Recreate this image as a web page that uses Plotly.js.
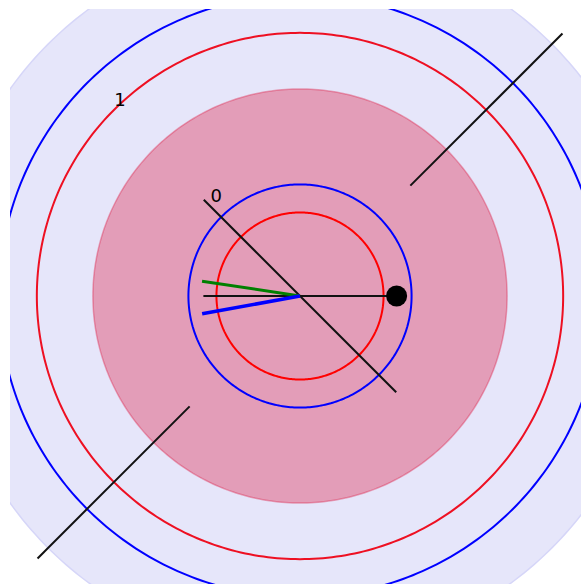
<!DOCTYPE html>
<html><head><meta charset="utf-8">
<script src="https://cdn.plot.ly/plotly-3.0.1.min.js"></script>
<style>
html,body{margin:0;padding:0;background:#fff;overflow:hidden;width:581px;height:584px;}
#clip{position:absolute;left:10px;top:9px;width:571px;height:575px;overflow:hidden;}
#plot{position:absolute;left:-91px;top:-94px;width:762px;height:762px;}
</style></head><body>
<div id="clip"><div id="plot"></div></div>
<script>
// radial tick labels
const radialTickVals = [0, 1];
const radialTickText = ['0', '1'];
// circle radii (data units)
const backgroundR = 1.618;
const innerRedR = -0.386;
const innerBlueR = -0.18;
const diskR = 0.522;
const outerRedR = 0.934;
const outerBlueR = 1.213;
// diagonal line through centre
const diagR = [0, -1, 0];
const diagTheta = [135, 0, 315];
// outer diagonal segments
const segR = [0.147, 1.728];
const segUpTheta = [45, 45];
const segDownTheta = [225, 225];
// horizontal line and dot
const horizR = [-0.29, -0.29];
const horizTheta = [180, 0];
const dotR = [-0.29];
const dotTheta = [0];
// green and blue spokes
const greenR = [-1, -0.272];
const greenTheta = [0, 171.4];
const blueR = [-1, -0.269];
const blueTheta = [0, 190.3];

const circTheta = [];
for (let t = 0; t <= 360; t += 1) circTheta.push(t);
const ring = v => circTheta.map(() => v);

const traces = [
  {type:'scatterpolar', mode:'lines', r: ring(backgroundR), theta: circTheta, fill:'toself',
   fillcolor:'rgb(230,230,250)', line:{color:'rgb(214,214,248)', width:1.5}},
  {type:'scatterpolar', mode:'lines', r: ring(diskR), theta: circTheta, fill:'toself',
   fillcolor:'rgba(220,20,60,0.35)', line:{color:'rgba(220,20,60,0.35)', width:1.5}},
  {type:'scatterpolar', mode:'lines', r: ring(innerRedR), theta: circTheta, line:{color:'#ff0000', width:2}},
  {type:'scatterpolar', mode:'lines', r: ring(innerBlueR), theta: circTheta, line:{color:'#0000ff', width:2}},
  {type:'scatterpolar', mode:'lines', r: ring(outerRedR), theta: circTheta, line:{color:'#ee1022', width:2}},
  {type:'scatterpolar', mode:'lines', r: ring(outerBlueR), theta: circTheta, line:{color:'#0000ff', width:2}},
  {type:'scatterpolar', mode:'lines', r: diagR, theta: diagTheta, line:{color:'#111', width:2}},
  {type:'scatterpolar', mode:'lines', r: segR, theta: segUpTheta, line:{color:'#111', width:2}},
  {type:'scatterpolar', mode:'lines', r: segR, theta: segDownTheta, line:{color:'#111', width:2}},
  {type:'scatterpolar', mode:'lines', r: horizR, theta: horizTheta, line:{color:'#111', width:2}},
  {type:'scatterpolar', mode:'lines', r: greenR, theta: greenTheta, line:{color:'#008000', width:3}},
  {type:'scatterpolar', mode:'lines', r: blueR, theta: blueTheta, line:{color:'#0000ff', width:3.5}},
  {type:'scatterpolar', mode:'markers', r: dotR, theta: dotTheta, marker:{color:'#000', size:21}}
];

const layout = {
  width: 762, height: 762,
  margin: {l:0, r:0, t:0, b:0, pad:0},
  paper_bgcolor: 'rgba(0,0,0,0)',
  showlegend: false,
  font: {family: 'DejaVu Sans', size: 18, color: '#000'},
  polar: {
    domain: {x:[0,1], y:[0,1]},
    bgcolor: 'rgba(0,0,0,0)',
    radialaxis: {range: [-1, 1.8], angle: 135, tickangle: 135, tickvals: radialTickVals, ticktext: radialTickText,
      ticksuffix: '\u00a0\u00a0',
      showline: false, showgrid: false, ticks: '', tickfont: {size: 18, color: '#000'}},
    angularaxis: {showgrid: false, showticklabels: false, ticks: '', showline: false}
  }
};
Plotly.newPlot('plot', traces, layout, {staticPlot: true});
</script></body></html>
